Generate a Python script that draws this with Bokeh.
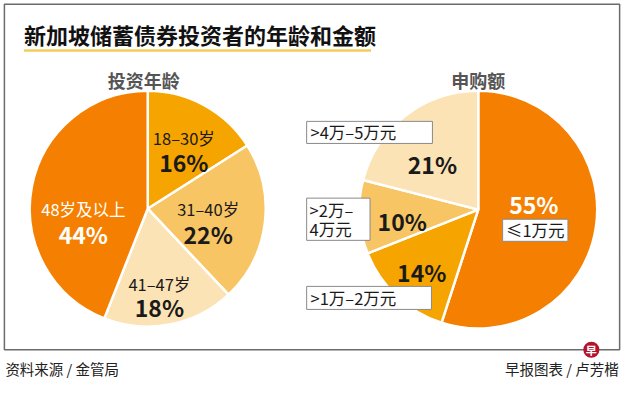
import numpy as np
from bokeh.plotting import figure
from bokeh.models import Range1d
from bokeh.core.properties import value
from bokeh.embed import file_html
from bokeh.resources import INLINE

# ---------------- data ----------------
title = "新加坡储蓄债券投资者的年龄和金额"
age_title = "投资年龄"
age_labels = ["18–30岁", "31–40岁", "41–47岁", "48岁及以上"]
age_values = [16, 22, 18, 44]
amt_title = "申购额"
amt_labels = ["≤1万元", ">1万–2万元", ">2万–\n4万元", ">4万–5万元"]
amt_values = [55, 14, 10, 21]
source_text = "资料来源 / 金管局"
credit_text = "早报图表 / 卢芳楷"

# ---------------- styles / layout ----------------
FONT = "Noto Sans CJK SC"
C_ORANGE = "#F57F00"
C_AMBER = "#F6A500"
C_LIGHT = "#F8C564"
C_PALE = "#FCE3B5"
age_colors = [C_AMBER, C_LIGHT, C_PALE, C_ORANGE]
amt_colors = [C_ORANGE, C_AMBER, C_LIGHT, C_PALE]

W, H = 640, 394  # reference canvas; data y = H - page_y


def Y(py):
    return H - py


p = figure(width=624, height=378, output_backend="svg", toolbar_location=None,
           x_range=Range1d(0, W), y_range=Range1d(0, H),
           min_border=0, background_fill_color="white", border_fill_color="white")
p.axis.visible = False
p.grid.visible = False
p.outline_line_color = None

# frame
p.quad(left=[4], right=[635], bottom=[Y(364)], top=[Y(4)], fill_color=None,
       line_color="#6b6b6b", line_width=1.5)

# title
p.text(x=[24], y=[Y(35)], text=[title], text_font=value(FONT), text_font_style="bold",
       text_font_size="22px", text_color="#111111", text_baseline="middle", text_align="left")
p.line(x=[24, 380], y=[Y(52), Y(52)], line_color="#F5CB5C", line_width=2.5)


def pie(cx, cy, r, vals, colors):
    v = np.array(vals, dtype=float)
    frac = v / v.sum()
    ends = np.cumsum(frac)
    starts = ends - frac
    start_ang = np.pi / 2 - starts * 2 * np.pi
    end_ang = np.pi / 2 - ends * 2 * np.pi
    p.wedge(x=cx, y=Y(cy), radius=r, start_angle=start_ang, end_angle=end_ang,
            direction="clock", fill_color=colors, line_color="white", line_width=2.5)


LAB_SIZE = "16.5px"

# left pie
pie(151, 217, 121, age_values, age_colors)
p.text(x=[147], y=[Y(83)], text=[age_title], text_font=value(FONT), text_font_style="bold",
       text_font_size="18px", text_color="#555555", text_align="center", text_baseline="middle")

age_lab_pos = [(188, 143), (213, 217), (163, 295), (85, 217)]
age_pct_pos = [(188, 168), (213, 243), (163, 319), (85, 243)]
age_txt_col = ["#1a1a1a", "#1a1a1a", "#1a1a1a", "white"]
for lab, val, (lx, ly), (px_, py_), col in zip(age_labels, age_values, age_lab_pos, age_pct_pos, age_txt_col):
    p.text(x=[lx], y=[Y(ly)], text=[lab], text_font=value(FONT), text_font_size=LAB_SIZE,
           text_color=col, text_align="center", text_baseline="middle")
    p.text(x=[px_], y=[Y(py_)], text=[f"{val}%"], text_font=value(FONT), text_font_style="bold",
           text_font_size="23px", text_color=col, text_align="center", text_baseline="middle")

# right pie
pie(490, 218, 122, amt_values, amt_colors)
p.text(x=[490], y=[Y(83)], text=[amt_title], text_font=value(FONT), text_font_style="bold",
       text_font_size="18px", text_color="#555555", text_align="center", text_baseline="middle")

amt_pct_pos = [(547, 212), (432, 283), (412, 230), (443, 170)]
amt_pct_col = ["white", "#1a1a1a", "#1a1a1a", "#1a1a1a"]
for val, (px_, py_), col in zip(amt_values, amt_pct_pos, amt_pct_col):
    p.text(x=[px_], y=[Y(py_)], text=[f"{val}%"], text_font=value(FONT), text_font_style="bold",
           text_font_size="23px", text_color=col, text_align="center", text_baseline="middle")

# label boxes: (left, top, right, bottom) in reference px
amt_box = [(515, 228, 582, 251), (314, 298, 442, 322), (314, 206, 379, 250), (314, 126, 443, 149)]
for lab, (l, t, r, b) in zip(amt_labels, amt_box):
    p.quad(left=[l], right=[r], top=[Y(t)], bottom=[Y(b)], fill_color="white",
           line_color="#8a8a8a", line_width=1)
    if "\n" in lab:
        lines = lab.split("\n")
        for i, ln in enumerate(lines):
            p.text(x=[l + 3], y=[Y(t + 12 + i * 20)], text=[ln], text_font=value(FONT),
                   text_font_size=LAB_SIZE, text_color="#1a1a1a", text_align="left",
                   text_baseline="middle")
    elif l > 400:
        p.text(x=[(l + r) / 2], y=[Y((t + b) / 2)], text=[lab], text_font=value(FONT),
               text_font_size=LAB_SIZE, text_color="#1a1a1a", text_align="center",
               text_baseline="middle")
    else:
        p.text(x=[l + 4], y=[Y((t + b) / 2)], text=[lab], text_font=value(FONT),
               text_font_size=LAB_SIZE, text_color="#1a1a1a", text_align="left",
               text_baseline="middle")

# footer
p.text(x=[5], y=[Y(384)], text=[source_text], text_font=value(FONT), text_font_size="14.5px",
       text_color="#222222", text_align="left", text_baseline="middle")
p.text(x=[634], y=[Y(384)], text=[credit_text], text_font=value(FONT), text_font_size="14.5px",
       text_color="#222222", text_align="right", text_baseline="middle")
p.scatter(x=[606], y=[Y(364)], size=16, marker="circle", fill_color="#B5122B", line_color=None)
p.text(x=[606], y=[Y(364)], text=["早"], text_font=value(FONT), text_font_style="bold",
       text_font_size="11px", text_color="white", text_align="center", text_baseline="middle")

open("out.html", "w").write(file_html(p, INLINE))
